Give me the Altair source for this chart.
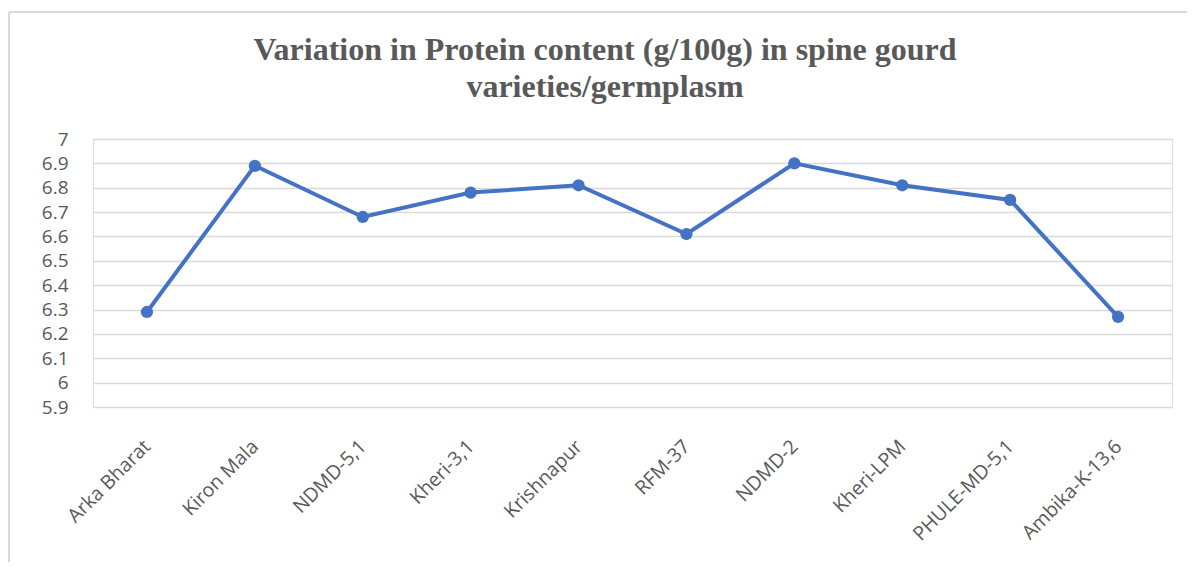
import altair as alt
import pandas as pd

varieties = ["Arka Bharat", "Kiron Mala", "NDMD-5,1", "Kheri-3,1", "Krishnapur",
             "RFM-37", "NDMD-2", "Kheri-LPM", "PHULE-MD-5,1", "Ambika-K-13,6"]
protein = [6.29, 6.89, 6.68, 6.78, 6.81, 6.61, 6.90, 6.81, 6.75, 6.27]
y_ticks = [5.9, 6.0, 6.1, 6.2, 6.3, 6.4, 6.5, 6.6, 6.7, 6.8, 6.9, 7.0]
title_lines = ["Variation in Protein content (g/100g) in spine gourd",
               "varieties/germplasm"]

df = pd.DataFrame({"variety": varieties, "protein": protein})
one = pd.DataFrame({"k": [0]})

x_enc = alt.X("variety:N", sort=varieties, title=None,
              scale=alt.Scale(paddingInner=0, paddingOuter=0),
              axis=alt.Axis(labelAngle=-45, labelAlign="right", labelBaseline="middle",
                            labelFont="Open Sans", labelFontSize=19.5, labelColor="#595959",
                            labelPadding=36, ticks=False, domain=False, grid=False))
y_enc = alt.Y("protein:Q", title=None,
              scale=alt.Scale(domain=[5.9, 7.0], nice=False, zero=False),
              axis=alt.Axis(values=y_ticks, format="~g", labelFont="Open Sans",
                            labelFontSize=19, labelColor="#595959", labelPadding=25,
                            ticks=False, domain=False, grid=True, gridColor="#d9d9d9",
                            gridWidth=1.5))

line = alt.Chart(df).mark_line(color="#4472C4", strokeWidth=4).encode(x=x_enc, y=y_enc)
pts = alt.Chart(df).mark_circle(color="#4472C4", size=150, opacity=1).encode(x=x_enc, y=y_enc)

title = alt.Chart(one).mark_text(
    text=title_lines, font="Liberation Serif", fontSize=32, fontWeight="bold",
    color="#595959", align="center", baseline="alphabetic", lineHeight=37
).encode(x=alt.value(512), y=alt.value(-79))

border_top = alt.Chart(one).mark_rule(color="#d9d9d9", strokeWidth=2).encode(
    x=alt.value(-84), x2=alt.value(1110), y=alt.value(-127))
border_left = alt.Chart(one).mark_rule(color="#d9d9d9", strokeWidth=2).encode(
    x=alt.value(-84), y=alt.value(-127), y2=alt.value(460))

chart = alt.layer(border_top, border_left, title, line, pts).properties(
    width=1079, height=268,
    autosize=alt.AutoSizeParams(type="none"),
    padding={"left": 85, "top": 131, "right": 15, "bottom": 155},
).configure_view(stroke=None).configure(background="white")

chart.save("out.html", embed_options={"renderer": "svg", "actions": False})
